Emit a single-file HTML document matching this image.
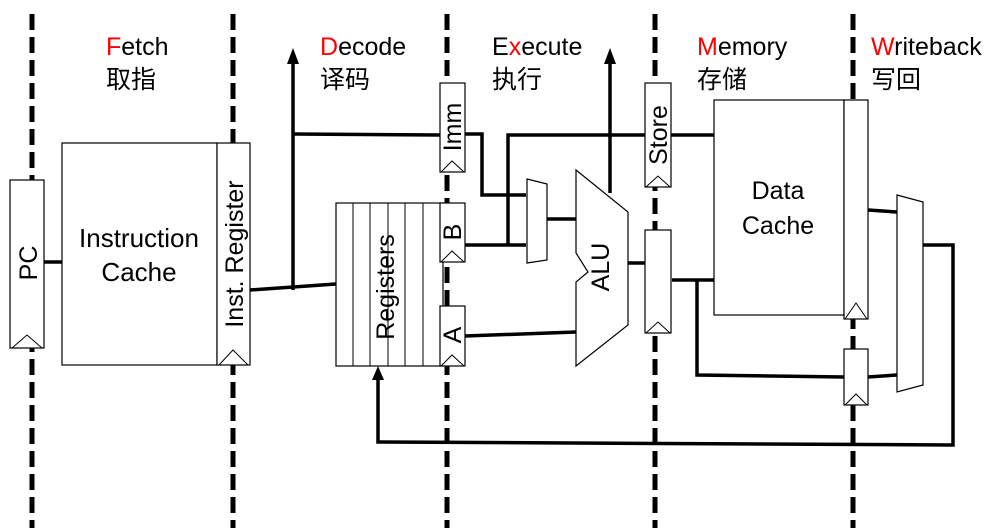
<!DOCTYPE html>
<html><head><meta charset="utf-8"><style>
html,body{margin:0;padding:0;background:#fff;}
svg{display:block;}
text{font-family:"Liberation Sans","Noto Sans CJK SC",sans-serif;fill:#000;}
</style></head><body>
<svg width="1000" height="528" viewBox="0 0 1000 528" xmlns="http://www.w3.org/2000/svg">
<!-- dashed stage lines -->
<g stroke="#000" stroke-width="5" stroke-dasharray="16,7">
<line x1="32" y1="14" x2="32" y2="528"/>
<line x1="233" y1="14" x2="233" y2="528"/>
<line x1="447" y1="14" x2="447" y2="528"/>
<line x1="655" y1="14" x2="655" y2="528"/>
<line x1="853" y1="14" x2="853" y2="528"/>
</g>
<!-- headers -->
<g font-size="25">
<text x="106" y="55"><tspan style="fill:#f00">F</tspan>etch</text>
<text x="106" y="88">取指</text>
<text x="320" y="55"><tspan style="fill:#f00">D</tspan>ecode</text>
<text x="320" y="88">译码</text>
<text x="492" y="55">E<tspan style="fill:#f00">x</tspan>ecute</text>
<text x="492" y="88">执行</text>
<text x="697" y="55"><tspan style="fill:#f00">M</tspan>emory</text>
<text x="697" y="88">存储</text>
<text x="871" y="55"><tspan style="fill:#f00">W</tspan>riteback</text>
<text x="871" y="88">写回</text>
</g>
<!-- wires -->
<g stroke="#000" stroke-width="3.5" fill="none">
<line x1="44" y1="262" x2="62" y2="262"/>
<polyline points="250,290 336,284"/>
<line x1="293" y1="290" x2="293" y2="60"/>
<line x1="293" y1="134" x2="440" y2="135"/>
<polyline points="465,134 482,134 482,195 526,195"/>
<polyline points="508,245 508,135 645,135"/>
<line x1="670" y1="135" x2="714" y2="135"/>
<line x1="465" y1="245" x2="526" y2="245"/>
<line x1="547" y1="219" x2="576" y2="219"/>
<line x1="610" y1="193" x2="610" y2="60"/>
<line x1="465" y1="336" x2="576" y2="332"/>
<line x1="628" y1="263" x2="645" y2="263"/>
<line x1="672" y1="280" x2="714" y2="280"/>
<polyline points="697,280 697,375 844,377"/>
<line x1="868" y1="210" x2="897" y2="212"/>
<line x1="868" y1="377" x2="897" y2="375"/>
<polyline points="923,245 953,245 953,445 378,442 378,375"/>
</g>
<g fill="#000">
<path d="M287,64 L293,48 L299,64 Z"/>
<path d="M604,64 L610,48 L616,64 Z"/>
<path d="M372,380 L378,366 L384,380 Z"/>
</g>
<!-- boxes -->
<g stroke="#000" stroke-width="1.2" fill="#fff">
<rect x="10" y="180" width="34" height="168"/>
<rect x="62" y="143" width="155" height="222"/>
<rect x="217" y="143" width="33" height="222"/>
<rect x="336" y="203" width="107" height="163"/>
<rect x="440" y="83" width="25" height="89"/>
<rect x="440" y="203" width="25" height="59"/>
<rect x="440" y="306" width="25" height="60"/>
<polygon points="527,179 547,184 547,260 527,263"/>
<polygon points="576,170 628,212 628,325 576,366 576,282 588,272 576,253"/>
<rect x="645" y="83" width="26" height="104"/>
<rect x="645" y="230" width="26" height="103"/>
<rect x="714" y="100" width="130" height="215"/>
<rect x="844" y="100" width="24" height="219"/>
<rect x="844" y="349" width="24" height="56"/>
<polygon points="897,195 923,202 923,385 897,392"/>
</g>
<g stroke="#000" stroke-width="1" fill="none">
<line x1="353" y1="203" x2="353" y2="366"/>
<line x1="370" y1="203" x2="370" y2="366"/>
<line x1="388" y1="203" x2="388" y2="366"/>
<line x1="405" y1="203" x2="405" y2="366"/>
<line x1="423" y1="203" x2="423" y2="366"/>
<polyline points="12,348 27,335 42,348"/>
<polyline points="219,365 233,350 248,365"/>
<polyline points="441,172 452,161 464,172"/>
<polyline points="441,262 452,251 464,262"/>
<polyline points="441,366 452,355 464,366"/>
<polyline points="646,187 658,176 670,187"/>
<polyline points="646,333 658,322 670,333"/>
<polyline points="845,319 856,303 867,319"/>
<polyline points="845,405 856,394 867,405"/>
</g>
<!-- labels -->
<g font-size="25">
<text x="139" y="247" text-anchor="middle" font-size="26">Instruction</text>
<text x="139" y="281" text-anchor="middle" font-size="26">Cache</text>
<text x="778" y="199" text-anchor="middle">Data</text>
<text x="778" y="234" text-anchor="middle">Cache</text>
<text transform="translate(37,263) rotate(-90)" text-anchor="middle">PC</text>
<text transform="translate(243,254) rotate(-90)" text-anchor="middle">Inst. Register</text>
<text transform="translate(394,287) rotate(-90)" text-anchor="middle">Registers</text>
<text transform="translate(461,127) rotate(-90)" text-anchor="middle">Imm</text>
<text transform="translate(461,232) rotate(-90)" text-anchor="middle">B</text>
<text transform="translate(461,335) rotate(-90)" text-anchor="middle">A</text>
<text transform="translate(667,135) rotate(-90)" text-anchor="middle">Store</text>
<text transform="translate(609,267) rotate(-90)" text-anchor="middle">ALU</text>
</g>
</svg>
</body></html>
